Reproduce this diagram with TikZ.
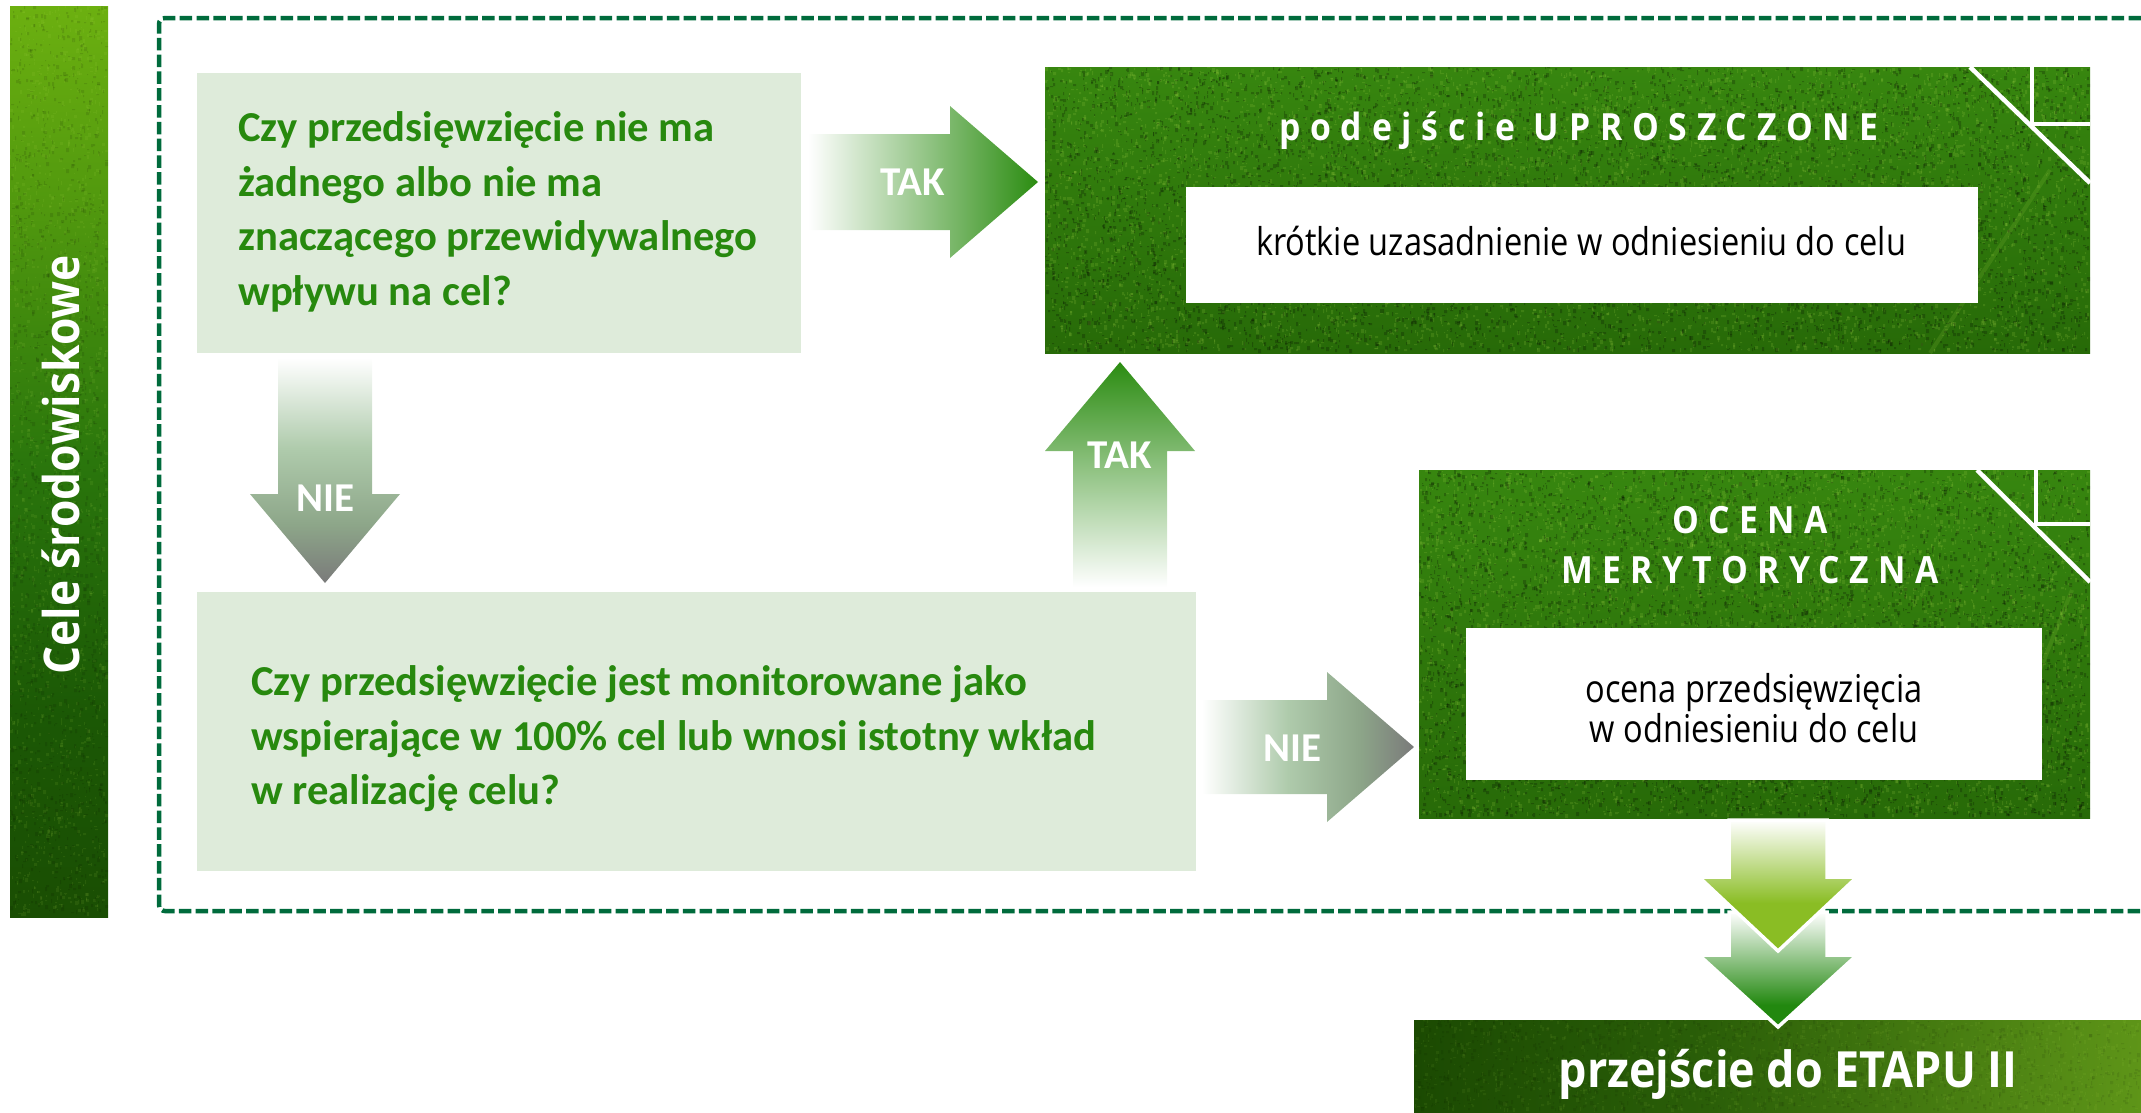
\documentclass[tikz,border=0pt]{standalone}
\usepackage{fontspec}
\setmainfont{Carlito}
\newfontfamily\titlef{Open Sans}[FakeStretch=0.9]
\newfontfamily\bodyf{Open Sans}[FakeStretch=0.85]
\usetikzlibrary{calc}
\definecolor{paleG}{HTML}{DEEBDA}
\definecolor{textG}{HTML}{27890E}
\definecolor{dashG}{HTML}{006B3C}
\definecolor{tipG}{HTML}{2B8C11}
\definecolor{lawnA}{HTML}{37860F}
\definecolor{lawnB}{HTML}{276A08}
\definecolor{speckL}{HTML}{A8D848}
\definecolor{limeG}{HTML}{8ABD24}
\definecolor{deepG}{HTML}{22880F}
\definecolor{barA}{HTML}{1A4E03}
\definecolor{barB}{HTML}{1B5805}
\definecolor{barC}{HTML}{2A760C}
\definecolor{barD}{HTML}{4E960E}
\definecolor{barE}{HTML}{6CB010}
\definecolor{stA}{HTML}{1B4A02}
\definecolor{stB}{HTML}{2A5E08}
\definecolor{stC}{HTML}{5E9518}
\definecolor{noA}{HTML}{7A7A7A}
\definecolor{noB}{HTML}{8DA689}
\definecolor{noC}{HTML}{AFCBAC}
% multi-stop shadings
\pgfdeclareverticalshading{barshade}{100bp}{color(0bp)=(barA); color(25bp)=(barA); color(36bp)=(barB); color(50bp)=(barC); color(63bp)=(barD); color(75bp)=(barE); color(100bp)=(barE)}
\pgfdeclarehorizontalshading{stageshade}{100bp}{color(0bp)=(stA); color(25bp)=(stA); color(45bp)=(stB); color(75bp)=(stC); color(100bp)=(stC)}
\pgfdeclareverticalshading{nodown}{100bp}{color(0bp)=(noA); color(25bp)=(noA); color(38bp)=(noB); color(55bp)=(noC); color(75bp)=(white); color(100bp)=(white)}
\pgfdeclarehorizontalshading{noright}{100bp}{color(0bp)=(white); color(25bp)=(white); color(45bp)=(noC); color(62bp)=(noB); color(75bp)=(noA); color(100bp)=(noA)}
\tikzset{
  px/.style={x=0.03cm,y=-0.03cm},
  palebox/.style={fill=paleG},
  whitebox/.style={fill=white},
  qtext/.style={font=\fontsize{36.4}{46.6}\selectfont\bfseries,text=textG,align=left,anchor=west,inner sep=0},
  armlabel/.style={font=\fontsize{35}{38}\selectfont\bfseries,text=white,inner sep=0},
  titletext/.style={font=\titlef\fontsize{32}{36}\selectfont\bfseries,text=white,inner sep=0},
  bodytext/.style={font=\bodyf\fontsize{32.7}{33.8}\selectfont,text=black,align=center,inner sep=0},
  courtline/.style={draw=white,line width=4.5*0.03cm},
  leafline/.style={draw=speckL,line width=4*0.03cm,opacity=.14},
}
\newcommand\pxbox[6]{\node[minimum width={(#4-#2)*0.03cm},minimum height={(#5-#3)*0.03cm},inner sep=0,outer sep=0,#6] (#1) at ({(#2+#4)/2},{(#3+#5)/2}) {};}
% grass speckle: x1 y1 x2 y2 (already inset) chunks
\newdimen\pxd \pxd=0.03cm
\newcount\skc
\newcommand\grains[5]{%
  \foreach \c in {1,...,#5}{%
    \skc=0
    \loop\ifnum\skc<150
      \pgfmathrandominteger{\a}{#1}{#3}\pgfmathrandominteger{\b}{#2}{#4}%
      \pgfmathrandominteger{\w}{1}{3}\pgfmathrandominteger{\h}{1}{4}%
      \pgfpathrectangle{\pgfqpoint{\a\pxd}{-\b\pxd}}{\pgfqpoint{\w\pxd}{-\h\pxd}}%
      \advance\skc by 1
    \repeat
    \pgfusepath{fill}}}
% x1 y1 x2 y2 chunks lightopacity darkopacity
\newcommand\speckle[7]{%
  \begin{pgfscope}\pgfsetfillcolor{speckL}\pgfsetfillopacity{#6}\grains{#1}{#2}{#3}{#4}{#5}\end{pgfscope}
  \begin{pgfscope}\pgfsetfillcolor{black}\pgfsetfillopacity{#7}\grains{#1}{#2}{#3}{#4}{#5}\end{pgfscope}}
% head base coordinate hb: tail, tip, head length
\newcommand\headbase[3]{\coordinate (hb) at ($(#2)!#3*0.03cm!(#1)$);}
% path: tail, tip, half body, half head
\newcommand\blockshape[4]{%
  ($(#1)!#3*0.03cm!90:(#2)$) -- ($(hb)!#3*0.03cm!90:(#2)$) -- ($(hb)!#4*0.03cm!90:(#2)$) -- (#2) -- ($(hb)!#4*0.03cm!-90:(#2)$) -- ($(hb)!#3*0.03cm!-90:(#2)$) -- ($(#1)!#3*0.03cm!-90:(#2)$) -- cycle}
\begin{document}
\begin{tikzpicture}[px]
\pgfmathsetseed{2141}
\useasboundingbox (0,0) rectangle (2141,1112);
% frame
\draw[dashG,line width=4.5*0.03cm,dash pattern=on 12.5*0.03cm off 4.3*0.03cm,rounded corners=6*0.03cm]
  (2141,18) -- (159,18) -- (159,911) -- (2141,911);
% left bar
\pxbox{bar}{10}{6}{108}{917}{}
\shade[shading=barshade] (bar.north west) rectangle (bar.south east);
\speckle{10}{6}{105}{913}{10}{.10}{.10}
\node[rotate=90,font=\titlef\fontsize{42}{44}\selectfont\bfseries,text=white,inner sep=0] (bartext) at (61,465) {Cele środowiskowe};
% question boxes
\pxbox{q1}{197}{73}{801}{353}{palebox}
\node[qtext] (q1t) at (238,212) {Czy przedsięwzięcie nie ma\\żadnego albo nie ma\\znaczącego przewidywalnego\\wpływu na cel?};
\pxbox{q2}{197}{592}{1196}{871}{palebox}
\node[qtext] (q2t) at (251,739) {Czy przedsięwzięcie jest monitorowane jako\\wspierające w 100\% cel lub wnosi istotny wkład\\w realizację celu?};
% grass boxes
\pxbox{g1}{1045}{67}{2090}{353}{}
\shade[top color=lawnA,bottom color=lawnB] (g1.north west) rectangle (g1.south east);
\speckle{1045}{67}{2087}{349}{40}{.16}{.22}
\draw[leafline] (1930,353) -- (2050,170);
\draw[courtline] (1970,67) -- (2090,183);
\draw[courtline] (2032,67) -- (2032,124) -- (2090,124);
\node[titletext] (g1t) at (1579,131) {\addfontfeature{LetterSpace=26}podejście UPROSZCZONE};
\pxbox{w1}{1186}{187}{1978}{303}{whitebox}
\node[bodytext] (w1t) at (1581,241) {krótkie uzasadnienie w odniesieniu do celu};
\pxbox{g2}{1419}{470}{2090}{818}{}
\shade[top color=lawnA,bottom color=lawnB] (g2.north west) rectangle (g2.south east);
\speckle{1419}{470}{2087}{814}{32}{.16}{.22}
\draw[leafline] (2020,720) -- (2072,590);
\draw[courtline] (1977,470) -- (2090,582);
\draw[courtline] (2036,470) -- (2036,524) -- (2090,524);
\node[titletext,align=center] (g2t) at (1750,545) {\addfontfeature{LetterSpace=25}OCENA\\[7pt]\addfontfeature{LetterSpace=25}MERYTORYCZNA};
\pxbox{w2}{1466}{628}{2042}{780}{whitebox}
\node[bodytext] (w2t) at (1754,708) {ocena przedsięwzięcia\\w odniesieniu do celu};
% bottom stage
\pxbox{stage}{1414}{1020}{2141}{1112}{}
\shade[shading=stageshade] (stage.north west) rectangle (stage.south east);
\speckle{1414}{1020}{2138}{1108}{8}{.08}{.08}
\node[font=\titlef\fontsize{42.6}{44}\selectfont\bfseries,text=white,inner sep=0] (staget) at (1788,1074) {przejście do ETAPU II};
% arrows
\coordinate (a1s) at (808,182); \coordinate (a1e) at (1038,182);
\headbase{a1s}{a1e}{88}
\shade[left color=white,right color=tipG] \blockshape{a1s}{a1e}{48}{76};
\node[armlabel] (a1l) at (913,182) {TAK};
\coordinate (a2s) at (325,358); \coordinate (a2e) at (325,583);
\headbase{a2s}{a2e}{89}
\shade[shading=nodown] \blockshape{a2s}{a2e}{47}{75};
\node[armlabel] (a2l) at (325,498) {NIE};
\coordinate (a3s) at (1120,587); \coordinate (a3e) at (1120,362);
\headbase{a3s}{a3e}{89}
\shade[bottom color=white,top color=tipG] \blockshape{a3s}{a3e}{47}{75};
\node[armlabel] (a3l) at (1120,455) {TAK};
\coordinate (a4s) at (1202,747); \coordinate (a4e) at (1414,747);
\headbase{a4s}{a4e}{87}
\shade[shading=noright] \blockshape{a4s}{a4e}{47}{75};
\node[armlabel] (a4l) at (1292,748) {NIE};
% the two stacked arrows to stage
\coordinate (a6s) at (1778,912); \coordinate (a6e) at (1778,1027);
\headbase{a6s}{a6e}{72}
\begin{scope}
\clip \blockshape{a6s}{a6e}{49}{79};
\shade[top color=white,bottom color=deepG] (1690,912) rectangle (1870,1005);
\fill[deepG] (1690,1005) rectangle (1870,1030);
\end{scope}
\draw[white,line width=3.5*0.03cm] \blockshape{a6s}{a6e}{49}{79};
\coordinate (a5s) at (1778,820); \coordinate (a5e) at (1778,951);
\headbase{a5s}{a5e}{74}
\begin{scope}
\clip \blockshape{a5s}{a5e}{49}{79};
\shade[top color=white,bottom color=limeG] (1690,820) rectangle (1870,903);
\fill[limeG] (1690,903) rectangle (1870,955);
\end{scope}
\draw[white,line width=3.5*0.03cm] \blockshape{a5s}{a5e}{49}{79};
\end{tikzpicture}
\end{document}
